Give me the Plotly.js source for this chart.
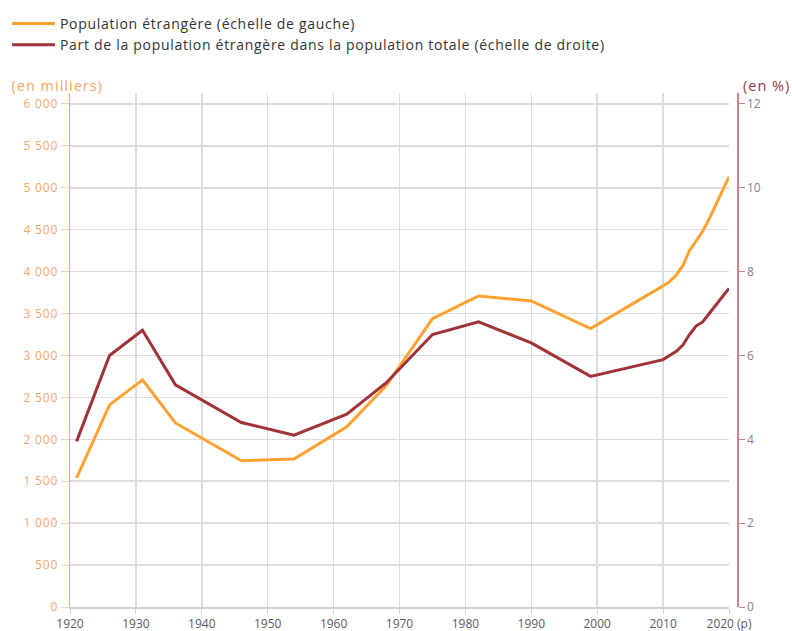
<!DOCTYPE html>
<html>
<head>
<meta charset="utf-8">
<script src="https://cdn.plot.ly/plotly-3.0.1.min.js"></script>
<style>
html,body{margin:0;padding:0;background:#fff;}
#chart{width:792px;height:631px;}
#chart .legendtext{letter-spacing:0.7px;}
#chart .legend .scrollbox, #chart .legend g{clip-path:none !important;}
#chart .annotation-text{letter-spacing:1px;}
#chart .ytick text{letter-spacing:0.8px;}
</style>
</head>
<body>
<div id="chart"></div>
<script>
// Data
const years = [1921, 1926, 1931, 1936, 1946, 1954, 1962, 1968, 1975, 1982, 1990, 1999, 2010, 2011, 2012, 2013, 2014, 2015, 2016, 2017, 2018, 2019, 2020];
const popEtrangere = [1540, 2410, 2710, 2195, 1745, 1765, 2150, 2640, 3440, 3710, 3650, 3320, 3830, 3880, 3960, 4070, 4250, 4360, 4480, 4630, 4800, 4970, 5130];
const partPopTotale = [3.95, 6.0, 6.6, 5.3, 4.4, 4.1, 4.6, 5.35, 6.5, 6.8, 6.3, 5.5, 5.9, 6.0, 6.1, 6.25, 6.5, 6.7, 6.8, 7.0, 7.2, 7.4, 7.6];
const xTickVals = [1920, 1930, 1940, 1950, 1960, 1970, 1980, 1990, 2000, 2010, 2020];
const xTickText = ["1920", "1930", "1940", "1950", "1960", "1970", "1980", "1990", "2000", "2010", "2020 (p)"];
const seriesNames = ["Population étrangère (échelle de gauche)", "Part de la population étrangère dans la population totale (échelle de droite)"];

const ORANGE = '#ffa131';
const RED = '#a03238';
const FONT = '"Open Sans", "Noto Sans", sans-serif';

const traces = [
  {x: years, y: popEtrangere, name: seriesNames[0], type: 'scatter', mode: 'lines',
   line: {color: ORANGE, width: 3}, yaxis: 'y', legendgroup: 'a'},
  {x: years, y: partPopTotale, name: seriesNames[1], type: 'scatter', mode: 'lines',
   line: {color: RED, width: 3}, yaxis: 'y2', legendgroup: 'b'}
];

const layout = {
  width: 792, height: 631,
  margin: {l: 70, r: 55, t: 93, b: 24, pad: 0, autoexpand: false},
  paper_bgcolor: '#fff', plot_bgcolor: '#fff',
  font: {family: FONT, size: 12, color: '#555'},
  separators: ', ',
  showlegend: true,
  legend: {xref: 'container', yref: 'container', x: 7 / 792, xanchor: 'left', y: 1 - 8 / 631, yanchor: 'top',
           font: {family: FONT, size: 14, color: '#333'}, itemwidth: 43,
           tracegroupgap: 0, traceorder: 'grouped', bgcolor: 'rgba(0,0,0,0)'},
  xaxis: {range: [1920, 2020], domain: [0, 0.988], tickvals: xTickVals, ticktext: xTickText,
          showgrid: true, gridcolor: '#dcdcdc', gridwidth: 1.5, showline: true, linecolor: '#d0d0d0', linewidth: 1.5,
          ticks: 'outside', ticklen: 5, tickcolor: '#d0d0d0', tickfont: {family: FONT, size: 12, color: '#5a5a66'},
          zeroline: false, fixedrange: true, automargin: false},
  yaxis: {range: [0, 6130], tick0: 0, dtick: 500, tickformat: ',d', showgrid: true, gridcolor: '#dcdcdc', gridwidth: 1.5,
          showline: true, linecolor: '#eeaa66', linewidth: 1.5, ticks: 'outside', ticklen: 8, tickcolor: '#d8d8d8',
          tickfont: {family: FONT, size: 12, color: '#f8a468'}, zeroline: false, fixedrange: true, automargin: false},
  yaxis2: {range: [0, 12.26], tick0: 0, dtick: 2, overlaying: 'y', side: 'right', anchor: 'free', position: 1,
           showgrid: false, zeroline: false, showline: true, linecolor: '#cc8084', linewidth: 1.5,
           ticks: 'outside', ticklen: 6, tickcolor: '#cc8084', tickfont: {family: FONT, size: 12, color: '#8a7a96'},
           fixedrange: true, automargin: false},
  annotations: [
    {text: '(en milliers)', xref: 'paper', yref: 'paper', x: (16 - 70) / 667, y: 1.0 + (93 - 85) / 514, xanchor: 'left', yanchor: 'middle',
     showarrow: false, font: {family: FONT, size: 14.5, color: '#f9a35a'}},
    {text: '(en %)', xref: 'paper', yref: 'paper', x: (744 - 70) / 667, y: 1.0 + (93 - 85) / 514, xanchor: 'left', yanchor: 'middle',
     showarrow: false, font: {family: FONT, size: 14.5, color: '#9e3a40'}}
  ]
};

Plotly.newPlot('chart', traces, layout, {displayModeBar: false, staticPlot: true});
</script>
</body>
</html>
